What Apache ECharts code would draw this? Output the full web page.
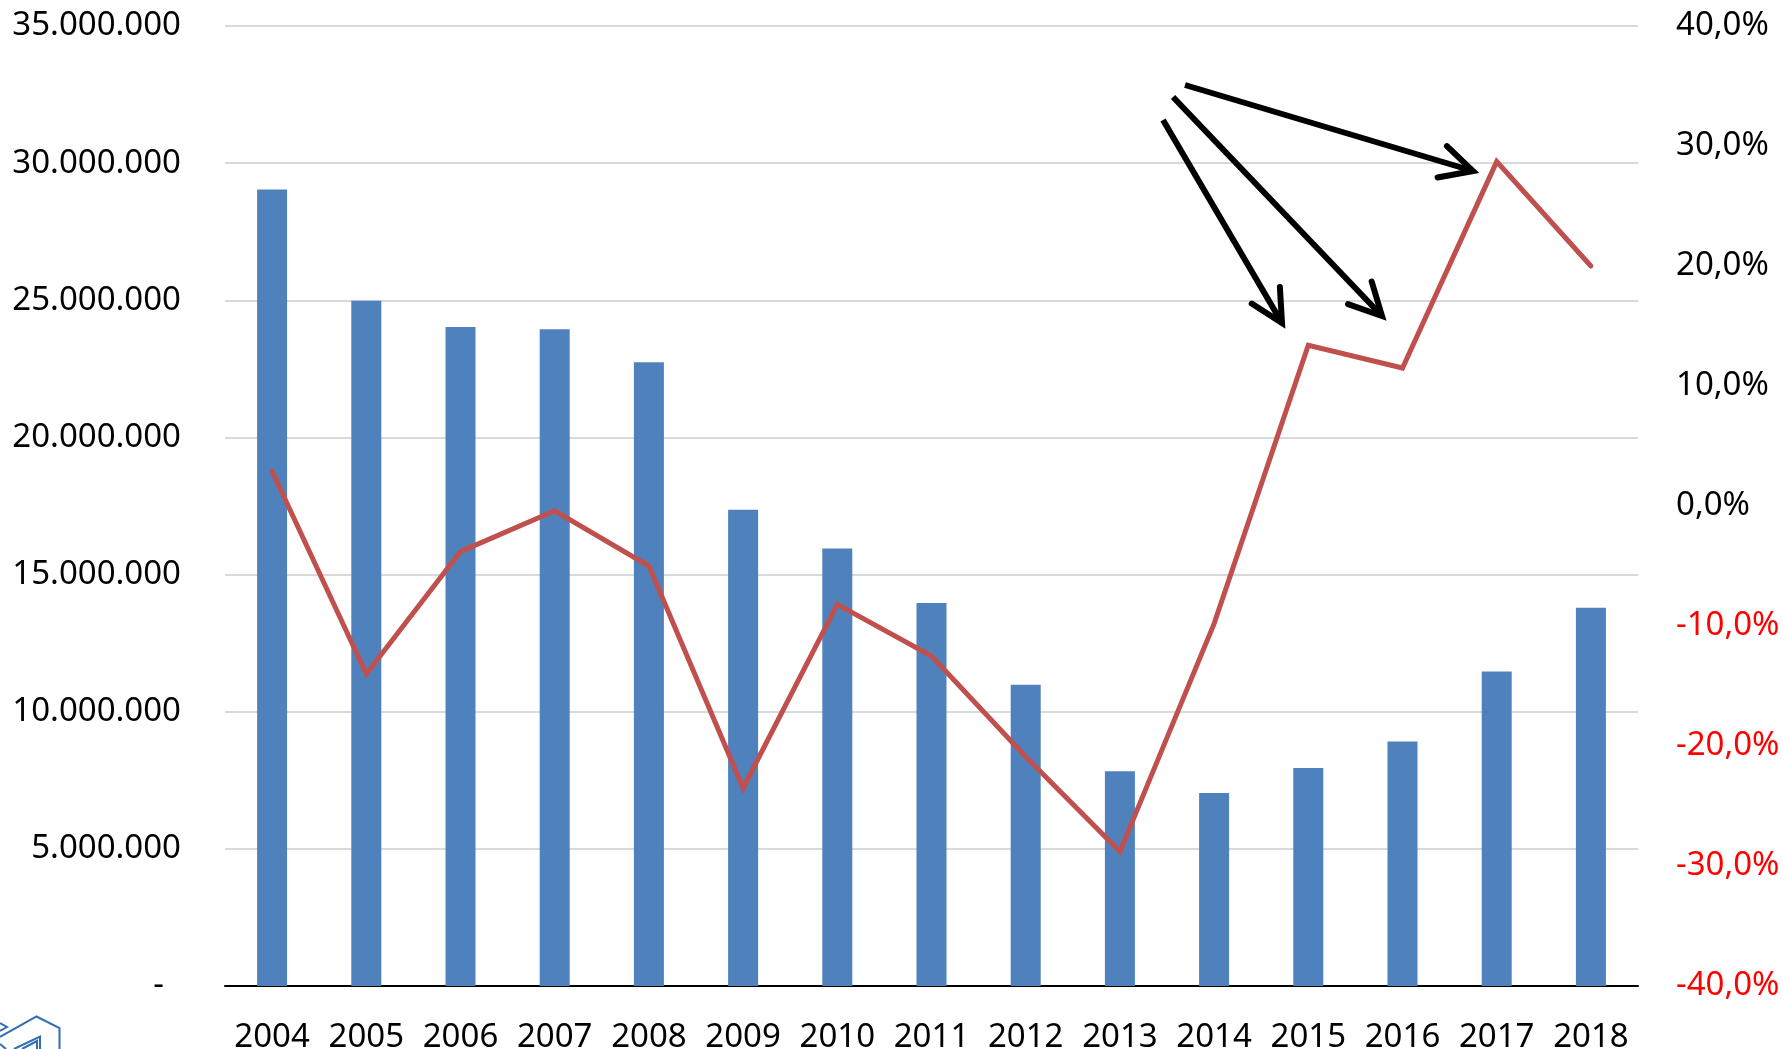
<!DOCTYPE html>
<html>
<head>
<meta charset="utf-8">
<script src="https://cdn.jsdelivr.net/npm/echarts@6/dist/echarts.min.js"></script>
<style>
  html, body { margin: 0; padding: 0; background: #fff; }
  #chart { width: 1782px; height: 1049px; }
</style>
</head>
<body>
<div id="chart"></div>
<script>
// data
const years = ["2004", "2005", "2006", "2007", "2008", "2009", "2010", "2011",
  "2012", "2013", "2014", "2015", "2016", "2017", "2018"];
const volumes = [29040000, 24980000, 24030000, 23940000, 22740000, 17360000, 15950000,
  13960000, 10980000, 7830000, 7040000, 7950000, 8910000, 11470000, 13790000];
const changes = [2.9, -14.0, -3.8, -0.4, -5.0, -23.5, -8.2, -12.5, -20.9, -28.8,
  -9.8, 13.4, 11.5, 28.7, 20.0];
const leftTicks = [0, 35000000, 5000000];   // min, max, step
const rightTicks = [-40, 40, 10];

const font = "Noto Sans";

function thousands(v) {
  if (v === 0) return "-  ";
  return String(v).replace(/\B(?=(\d{3})+(?!\d))/g, ".");
}

function pct(v) {
  const s = v.toFixed(1).replace(".", ",") + "%";
  return v < 0 ? "{neg|" + s + "}" : "{pos|" + s + "}";
}

// open-headed arrow annotation
function arrow(x1, y1, x2, y2) {
  const a = Math.atan2(y2 - y1, x2 - x1);
  const L = 36, t = 27 * Math.PI / 180;
  const st = { stroke: "#000", lineWidth: 6, fill: null };
  return [
    { type: "line", z: 100, shape: { x1: x1, y1: y1, x2: x2, y2: y2 },
      style: Object.assign({ lineCap: "butt" }, st) },
    { type: "polyline", z: 100,
      shape: { points: [
        [x2 - L * Math.cos(a - t), y2 - L * Math.sin(a - t)],
        [x2, y2],
        [x2 - L * Math.cos(a + t), y2 - L * Math.sin(a + t)]
      ] },
      style: Object.assign({ lineCap: "round", lineJoin: "miter" }, st) }
  ];
}

const logoStyle = { stroke: "#2F6DB5", lineWidth: 2, fill: null };
const logo = [
  { type: "polyline", shape: { points: [[0, 1037], [36.5, 1016.5], [59.5, 1028], [59.5, 1049]] }, style: logoStyle },
  { type: "polyline", shape: { points: [[0, 1023], [7, 1027], [0, 1031]] }, style: logoStyle },
  { type: "polyline", shape: { points: [[14, 1049], [40, 1036.5], [40, 1049]] }, style: logoStyle },
  { type: "polyline", shape: { points: [[22, 1049], [37, 1041], [37, 1049]] }, style: logoStyle },
  { type: "line", shape: { x1: 0, y1: 1044, x2: 6, y2: 1049 }, style: logoStyle }
];

const chart = echarts.init(document.getElementById("chart"));
chart.setOption({
  backgroundColor: "#fff",
  animation: false,
  textStyle: { fontFamily: font },
  grid: { left: 225, right: 144, top: 26, bottom: 63, containLabel: false, outerBoundsMode: "none" },
  xAxis: {
    type: "category",
    data: years,
    axisLine: { lineStyle: { color: "#000", width: 2 } },
    axisTick: { show: false },
    axisLabel: { interval: 0, color: "#000", fontSize: 33, fontFamily: font, margin: 35 }
  },
  yAxis: [
    {
      type: "value",
      min: leftTicks[0], max: leftTicks[1], interval: leftTicks[2],
      axisLine: { show: false },
      axisTick: { show: false },
      splitLine: { lineStyle: { color: "#D9D9D9", width: 2 } },
      axisLabel: { color: "#000", fontSize: 33, fontFamily: font, margin: 44, formatter: thousands }
    },
    {
      type: "value",
      min: rightTicks[0], max: rightTicks[1], interval: rightTicks[2],
      position: "right",
      axisLine: { show: false },
      axisTick: { show: false },
      splitLine: { show: false },
      axisLabel: {
        fontSize: 33, fontFamily: font, margin: 38, formatter: pct,
        rich: {
          pos: { color: "#000", fontSize: 33, fontFamily: font },
          neg: { color: "#FF0000", fontSize: 33, fontFamily: font }
        }
      }
    }
  ],
  series: [
    {
      type: "bar",
      data: volumes,
      barWidth: 30,
      itemStyle: { color: "#4F81BD" }
    },
    {
      type: "line",
      yAxisIndex: 1,
      data: changes,
      symbol: "none",
      lineStyle: { color: "#C0504D", width: 5, cap: "round", join: "miter" },
      z: 5
    }
  ],
  graphic: [].concat(
    arrow(1185, 85, 1473, 171),
    arrow(1173, 97, 1382, 316),
    arrow(1163, 120, 1282, 323),
    logo
  )
});
</script>
</body>
</html>
